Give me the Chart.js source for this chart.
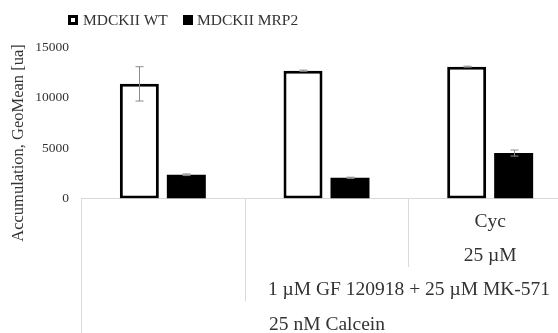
<!DOCTYPE html>
<html>
<head>
<meta charset="utf-8">
<script src="https://cdn.jsdelivr.net/npm/chart.js@4/dist/chart.umd.min.js"></script>
<style>
  html, body { margin: 0; padding: 0; background: #fff; overflow: hidden; }
  #wrap { width: 558px; height: 333px; overflow: hidden; }
</style>
</head>
<body>
<div id="wrap"><canvas id="chart" width="580" height="333"></canvas></div>
<script>
// --- DATA ---
const categories = ["", "", "Cyc"];
const concentrationLabels = ["", "", "25 µM"];
const inhibitorLabel = "1 µM GF 120918 + 25 µM MK-571"; // spans groups 2-3
const substrateLabel = "25 nM Calcein"; // spans all groups
const seriesNames = ["MDCKII WT", "MDCKII MRP2"];
const wtValues = [11350, 12650, 13050];
const wtErrors = [1700, 60, 50];
const mrp2Values = [2350, 2050, 4500];
const mrp2Errors = [80, 60, 300];
const yTicks = [0, 5000, 10000, 15000];

const FONT = "'Liberation Serif', 'Times New Roman', serif";
const TEXT = "#333333";
const LINE = "#d9d9d9";

// error bars + multi level axis + legend + y title
const extras = {
  id: "extras",
  afterDatasetsDraw(chart) {
    const ctx = chart.ctx;
    const y = chart.scales.y;
    const errs = [wtErrors, mrp2Errors];
    ctx.save();
    ctx.strokeStyle = "#8c8c8c";
    ctx.lineWidth = 1;
    chart.data.datasets.forEach((ds, di) => {
      chart.getDatasetMeta(di).data.forEach((bar, i) => {
        const v = ds.data[i];
        const x = Math.round(bar.x) + 0.5;
        const top = y.getPixelForValue(v + errs[di][i]);
        const bot = y.getPixelForValue(v - errs[di][i]);
        ctx.beginPath();
        ctx.moveTo(x, top); ctx.lineTo(x, bot);
        ctx.moveTo(x - 4, top); ctx.lineTo(x + 4, top);
        ctx.moveTo(x - 4, bot); ctx.lineTo(x + 4, bot);
        ctx.stroke();
      });
    });
    ctx.restore();
  },
  afterDraw(chart) {
    const ctx = chart.ctx;
    const xs = chart.scales.x;
    const area = chart.chartArea;
    const n = categories.length;
    const w = (area.right - area.left) / n;
    const edge = (i) => Math.round(area.left + i * w) + 0.5;
    const rowH = 34.3;
    const rowY = (k) => area.bottom + 23 + k * rowH;
    const rowEnd = (k) => area.bottom + k * rowH;

    ctx.save();
    // separators
    ctx.strokeStyle = LINE;
    ctx.lineWidth = 1;
    const seps = [[0, 5], [1, 3], [2, 2], [3, 2]];
    seps.forEach(([i, rows]) => {
      ctx.beginPath();
      ctx.moveTo(edge(i), area.bottom);
      ctx.lineTo(edge(i), rowEnd(rows));
      ctx.stroke();
    });

    // category rows
    ctx.fillStyle = TEXT;
    ctx.font = "19.5px " + FONT;
    ctx.textAlign = "center";
    ctx.textBaseline = "middle";
    categories.forEach((c, i) => ctx.fillText(c, xs.getPixelForValue(i), rowY(0)));
    concentrationLabels.forEach((c, i) => ctx.fillText(c, xs.getPixelForValue(i), rowY(1)));
    ctx.fillText(inhibitorLabel, (edge(1) + edge(3)) / 2, rowY(2));
    ctx.fillText(substrateLabel, (edge(0) + edge(3)) / 2, rowY(3));

    // y title
    ctx.save();
    ctx.translate(19, 143);
    ctx.rotate(-Math.PI / 2);
    ctx.font = "16.5px " + FONT;
    ctx.fillText("Accumulation, GeoMean [ua]", 0, 0);
    ctx.restore();

    // legend
    ctx.textAlign = "left";
    ctx.font = "15.5px " + FONT;
    ctx.fillStyle = "#000";
    ctx.fillRect(68, 15, 10, 10);
    ctx.fillStyle = "#fff";
    ctx.fillRect(71, 18, 4, 4);
    ctx.fillStyle = "#000";
    ctx.fillRect(183, 15, 10, 10);
    ctx.fillStyle = TEXT;
    ctx.fillText(seriesNames[0], 83, 20.5);
    ctx.fillText(seriesNames[1], 197, 20.5);
    ctx.restore();
  }
};

new Chart(document.getElementById("chart"), {
  type: "bar",
  data: {
    labels: categories,
    datasets: [
      {
        label: seriesNames[0],
        data: wtValues,
        backgroundColor: "#ffffff",
        borderColor: "#000000",
        borderWidth: 3,
        borderSkipped: false
      },
      {
        label: seriesNames[1],
        data: mrp2Values,
        backgroundColor: "#000000",
        borderColor: "#000000",
        borderWidth: 0
      }
    ]
  },
  options: {
    responsive: false,
    animation: false,
    devicePixelRatio: 1,
    categoryPercentage: 0.574,
    barPercentage: 0.83,
    layout: { padding: { top: 47, right: 8, bottom: 0, left: 0 } },
    plugins: { legend: { display: false }, tooltip: { enabled: false } },
    scales: {
      x: {
        grid: { display: false },
        border: { display: true, color: LINE, width: 1 },
        ticks: { display: false },
        afterFit: (s) => { s.height = 134.5; }
      },
      y: {
        min: 0,
        max: 15000,
        afterBuildTicks: (s) => { s.ticks = yTicks.map((v) => ({ value: v })); },
        grid: { display: false, drawTicks: false },
        border: { display: false },
        ticks: {
          padding: 12,
          color: TEXT,
          font: { family: FONT, size: 13.5 },
          callback: (v) => String(v)
        },
        afterFit: (s) => { s.width = 81; }
      }
    }
  },
  plugins: [extras]
});
</script>
</body>
</html>
